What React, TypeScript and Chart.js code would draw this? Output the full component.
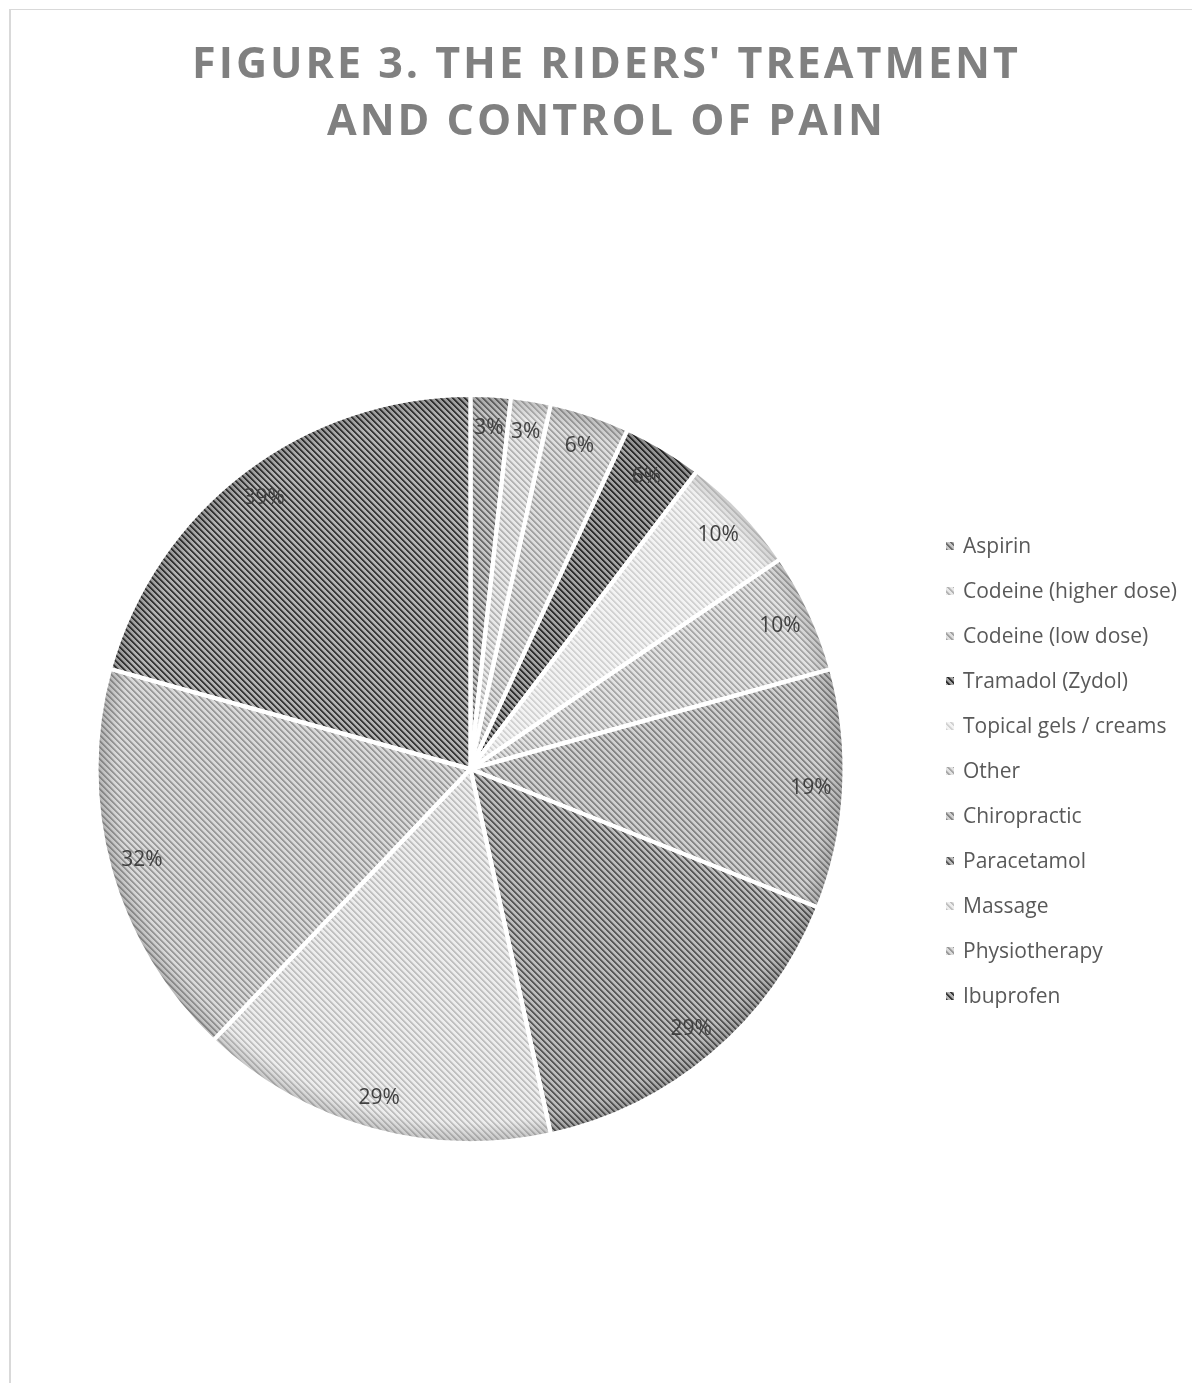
import React, { useEffect, useRef } from "react";
import { Chart, registerables } from "chart.js";

Chart.register(...registerables);

// Treatment categories, in the order the slices run clockwise from 12 o'clock
const categories = [
  "Aspirin",
  "Codeine (higher dose)",
  "Codeine (low dose)",
  "Tramadol (Zydol)",
  "Topical gels / creams",
  "Other",
  "Chiropractic",
  "Paracetamol",
  "Massage",
  "Physiotherapy",
  "Ibuprofen",
];

// Share of riders using each treatment (%); labels show the rounded value
const percentages = [3.23, 3.23, 6.45, 6.45, 9.68, 9.68, 19.35, 29.03, 29.03, 32.26, 38.71];

// Hatch colours per slice: ground tone and diagonal stripe tone
const hatchGround = [
  "#c6c6c6", "#e8e8e8", "#dedede", "#a4a4a4", "#f3f3f3", "#e2e2e2",
  "#d0d0d0", "#bdbdbd", "#ededed", "#dadada", "#b3b3b3",
];
const hatchStripe = [
  "#6c6c6c", "#b4b4b4", "#a2a2a2", "#2e2e2e", "#d2d2d2", "#a8a8a8",
  "#868686", "#595959", "#c0c0c0", "#9a9a9a", "#383838",
];

const titleLines = ["FIGURE 3. THE RIDERS' TREATMENT", "AND CONTROL OF PAIN"];

const W = 1192;
const H = 1383;

function mix(a: string, b: string): string {
  const pa = parseInt(a.slice(1), 16);
  const pb = parseInt(b.slice(1), 16);
  const ch = (p: number, s: number) => (p >> s) & 255;
  const m = (s: number) => Math.round((ch(pa, s) + ch(pb, s)) / 2);
  return `rgb(${m(16)},${m(8)},${m(0)})`;
}

function makeHatch(ctx: CanvasRenderingContext2D, ground: string, stripe: string): CanvasPattern {
  const size = 6;
  const tile = document.createElement("canvas");
  tile.width = size;
  tile.height = size;
  const g = tile.getContext("2d")!;
  g.fillStyle = ground;
  g.fillRect(0, 0, size, size);
  const soft = mix(ground, stripe);
  for (let y = 0; y < size; y++) {
    g.fillStyle = stripe;
    g.fillRect(y % size, y, 1, 1);
    g.fillRect((y + 1) % size, y, 1, 1);
    g.fillStyle = soft;
    g.fillRect((y + 2) % size, y, 1, 1);
  }
  return ctx.createPattern(tile, "repeat")!;
}

function arcGeom(arc: any) {
  return arc.getProps(["x", "y", "startAngle", "endAngle", "outerRadius"], true);
}

// Soft darkening toward the rim of every slice, then the white separators again
const rimShade = {
  id: "rimShade",
  afterDatasetsDraw(chart: any) {
    const { ctx } = chart;
    const meta = chart.getDatasetMeta(0);
    const border = chart.data.datasets[0].borderWidth as number;
    meta.data.forEach((arc: any) => {
      const { x, y, startAngle, endAngle, outerRadius } = arcGeom(arc);
      const rim = outerRadius - border / 2;
      ctx.save();
      ctx.beginPath();
      ctx.moveTo(x, y);
      ctx.arc(x, y, rim, startAngle, endAngle);
      ctx.closePath();
      ctx.clip();
      const grad = ctx.createRadialGradient(x, y, rim - 18, x, y, rim);
      grad.addColorStop(0, "rgba(0,0,0,0)");
      grad.addColorStop(1, "rgba(0,0,0,0.16)");
      ctx.fillStyle = grad;
      ctx.fillRect(x - rim, y - rim, rim * 2, rim * 2);
      ctx.restore();
    });
    ctx.save();
    ctx.strokeStyle = "#ffffff";
    ctx.lineWidth = border;
    meta.data.forEach((arc: any) => {
      const { x, y, startAngle, outerRadius } = arcGeom(arc);
      ctx.beginPath();
      ctx.moveTo(x, y);
      ctx.lineTo(x + Math.cos(startAngle) * (outerRadius + 2), y + Math.sin(startAngle) * (outerRadius + 2));
      ctx.stroke();
    });
    ctx.restore();
  },
};

// Percentage labels placed just inside the rim of each slice
const sliceLabels = {
  id: "sliceLabels",
  afterDatasetsDraw(chart: any) {
    const { ctx } = chart;
    const meta = chart.getDatasetMeta(0);
    const values = chart.data.datasets[0].data as number[];
    ctx.save();
    ctx.font = "21px 'Open Sans'";
    ctx.fillStyle = "#404040";
    ctx.textAlign = "center";
    ctx.textBaseline = "middle";
    meta.data.forEach((arc: any, i: number) => {
      const { x, y, startAngle, endAngle, outerRadius } = arcGeom(arc);
      const mid = (startAngle + endAngle) / 2;
      const r = outerRadius - 33;
      ctx.fillText(`${Math.round(values[i])}%`, x + Math.cos(mid) * r, y + Math.sin(mid) * r);
    });
    ctx.restore();
  },
};

// Legend listed to the right of the pie
const sideLegend = {
  id: "sideLegend",
  afterDraw(chart: any) {
    const { ctx } = chart;
    const bg = chart.data.datasets[0].backgroundColor as CanvasPattern[];
    const left = 946;
    const top = 546;
    const step = 45;
    ctx.save();
    ctx.font = "21px 'Open Sans'";
    ctx.textBaseline = "middle";
    ctx.textAlign = "left";
    chart.data.labels.forEach((name: string, i: number) => {
      const cy = top + i * step;
      ctx.fillStyle = bg[i];
      ctx.fillRect(left, cy - 4, 8, 8);
      ctx.fillStyle = "#595959";
      ctx.fillText(name, left + 17, cy + 1);
    });
    ctx.restore();
  },
};

export default function App() {
  const canvasRef = useRef<HTMLCanvasElement | null>(null);

  useEffect(() => {
    const canvas = canvasRef.current;
    if (!canvas) return;
    const ctx = canvas.getContext("2d")!;
    const patterns = categories.map((_, i) => makeHatch(ctx, hatchGround[i], hatchStripe[i]));

    const chart = new Chart(canvas, {
      type: "pie",
      data: {
        labels: categories,
        datasets: [
          {
            data: percentages,
            backgroundColor: patterns,
            borderColor: "#ffffff",
            borderWidth: 4,
            radius: 374,
          },
        ],
      },
      options: {
        responsive: false,
        animation: false,
        devicePixelRatio: 1,
        layout: { padding: { left: 98, right: W - 843, top: 397, bottom: H - 1141 } },
        plugins: {
          legend: { display: false },
          title: { display: false },
          tooltip: { enabled: false },
        },
      },
      plugins: [rimShade, sliceLabels, sideLegend],
    });
    return () => chart.destroy();
  }, []);

  return (
    <div
      style={{
        position: "absolute",
        left: 0,
        top: 0,
        width: W,
        height: H,
        overflow: "hidden",
        background: "#ffffff",
      }}
    >
      <div
        style={{
          position: "absolute",
          left: 9,
          top: 9,
          width: W - 9,
          height: H - 9,
          borderTop: "1px solid #d9d9d9",
          borderLeft: "2px solid #d9d9d9",
          boxSizing: "border-box",
        }}
      />
      <canvas
        ref={canvasRef}
        width={W}
        height={H}
        style={{ position: "absolute", left: 0, top: 0, width: W, height: H }}
      />
      <div
        style={{
          position: "absolute",
          left: 9,
          top: 33,
          width: 1192,
          textAlign: "center",
          fontFamily: "'Open Sans', sans-serif",
          fontWeight: 700,
          fontSize: 43,
          lineHeight: "57px",
          letterSpacing: 3,
          paddingLeft: 3,
          boxSizing: "border-box",
          color: "#808080",
        }}
      >
        {titleLines.map((line) => (
          <div key={line}>{line}</div>
        ))}
      </div>
    </div>
  );
}
